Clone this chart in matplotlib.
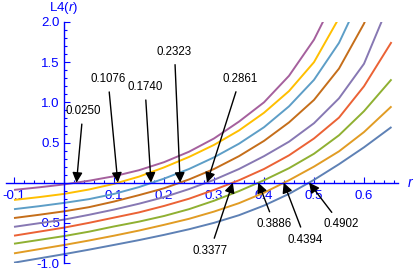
import matplotlib
matplotlib.use("Agg")
import matplotlib.pyplot as plt
from matplotlib.ticker import FixedLocator, MultipleLocator

plt.rcParams['font.family'] = ['Liberation Sans', 'DejaVu Sans']
plt.rcParams['mathtext.fontset'] = 'custom'
plt.rcParams['mathtext.rm'] = 'Liberation Sans'
plt.rcParams['mathtext.it'] = 'Liberation Sans:italic'

r_vals = [-0.1, -0.05, 0.0, 0.05, 0.1, 0.15, 0.2, 0.25, 0.3, 0.35,
          0.4, 0.45, 0.5, 0.55, 0.6, 0.655]

# curves, bottom to top (named by their root)
y_4902 = [-0.996, -0.943, -0.89, -0.834, -0.775, -0.715, -0.65, -0.58, -0.5, -0.405,
          -0.285, -0.14, 0.035, 0.23, 0.44, 0.693]
y_4394 = [-0.88, -0.828, -0.776, -0.72, -0.66, -0.596, -0.525, -0.45, -0.36, -0.255,
          -0.125, 0.03, 0.2, 0.39, 0.63, 0.95]
y_3886 = [-0.76, -0.713, -0.665, -0.61, -0.545, -0.485, -0.415, -0.33, -0.225, -0.105,
          0.03, 0.18, 0.36, 0.59, 0.89, 1.286]
y_3377 = [-0.66, -0.61, -0.56, -0.5, -0.435, -0.37, -0.29, -0.2, -0.09, 0.03,
          0.17, 0.34, 0.55, 0.81, 1.2, 1.75]
y_2861 = [-0.55, -0.505, -0.46, -0.4, -0.335, -0.262, -0.18, -0.08, 0.035, 0.17,
          0.33, 0.51, 0.74, 1.05, 1.48, 2.3]
y_2323 = [-0.44, -0.4, -0.357, -0.305, -0.235, -0.155, -0.07, 0.04, 0.17, 0.33,
          0.52, 0.75, 1.03, 1.42, 1.98, 2.8]
y_1740 = [-0.33, -0.293, -0.252, -0.205, -0.14, -0.055, 0.05, 0.17, 0.315, 0.485,
          0.69, 0.95, 1.28, 1.74, 2.4, 3.3]
y_1076 = [-0.215, -0.18, -0.14, -0.085, -0.015, 0.075, 0.19, 0.32, 0.47, 0.65,
          0.87, 1.14, 1.5, 2.05, 2.8, 3.8]
y_0250 = [-0.09, -0.058, -0.022, 0.024, 0.08, 0.155, 0.255, 0.385, 0.55, 0.76,
          1.0, 1.33, 1.78, 2.4, 3.2, 4.2]

curves = [y_4902, y_4394, y_3886, y_3377, y_2861, y_2323, y_1740, y_1076, y_0250]
colors = ['#5E81B5', '#E19C24', '#8FB032', '#EB6235', '#8778B3',
          '#C56E1A', '#5D9EC7', '#FFBF00', '#A5609D']

# roots and where their labels sit
roots = [0.0250, 0.1076, 0.1740, 0.2323, 0.2861, 0.3377, 0.3886, 0.4394, 0.4902]
root_labels = ['0.0250', '0.1076', '0.1740', '0.2323', '0.2861',
               '0.3377', '0.3886', '0.4394', '0.4902']
label_pos = [(0.038, 0.89), (0.088, 1.29), (0.162, 1.19), (0.221, 1.63), (0.352, 1.29),
             (0.292, -0.85), (0.421, -0.52), (0.483, -0.71), (0.554, -0.52)]

blue = '#0000FF'

fig = plt.figure(figsize=(4.15, 2.73), dpi=100)
ax = fig.add_axes([6 / 415, 10 / 273, 392 / 415, 241 / 273])

for ys, c in zip(curves, colors):
    ax.plot(r_vals, ys, color=c, lw=1.4, solid_capstyle='butt')

ax.set_xlim(-0.116, 0.668)
ax.set_ylim(-1.0, 2.0)

for side in ['top', 'right']:
    ax.spines[side].set_visible(False)
ax.spines['left'].set_position(('data', 0))
ax.spines['bottom'].set_position(('data', 0))
for side in ['left', 'bottom']:
    ax.spines[side].set_color(blue)
    ax.spines[side].set_linewidth(1.0)

xt = [-0.1, 0.1, 0.2, 0.3, 0.4, 0.5, 0.6]
yt = [-1.0, -0.5, 0.5, 1.0, 1.5, 2.0]
ax.xaxis.set_major_locator(FixedLocator(xt))
ax.set_xticklabels(['-0.1', '0.1', '0.2', '0.3', '0.4', '0.5', '0.6'])
ax.xaxis.set_minor_locator(MultipleLocator(0.02))
ax.yaxis.set_major_locator(FixedLocator(yt))
ax.set_yticklabels(['-1.0', '-0.5', '0.5', '1.0', '1.5', '2.0'])
ax.yaxis.set_minor_locator(MultipleLocator(0.1))

ax.tick_params(which='both', direction='in', color=blue, labelcolor=blue,
               labelsize=9.5, width=0.8)
ax.tick_params(which='major', length=4)
ax.tick_params(which='minor', length=2.3)
ax.tick_params(axis='x', pad=5)
ax.tick_params(axis='y', pad=3)

ax.text(0.0, 2.17, 'L4($r$)', color=blue, fontsize=9.5, ha='center', va='center',
        clip_on=False)
ax.text(0.694, -0.01, '$r$', color=blue, fontsize=10, ha='center', va='center',
        clip_on=False)

for rt, lab, pos in zip(roots, root_labels, label_pos):
    ax.annotate(lab, xy=(rt, 0), xytext=pos, fontsize=8.3, color='black',
                ha='center', va='center',
                arrowprops=dict(arrowstyle='-|>', color='black', lw=1.0,
                                mutation_scale=15, shrinkA=3, shrinkB=0))

fig.savefig('out.png', dpi=100)
